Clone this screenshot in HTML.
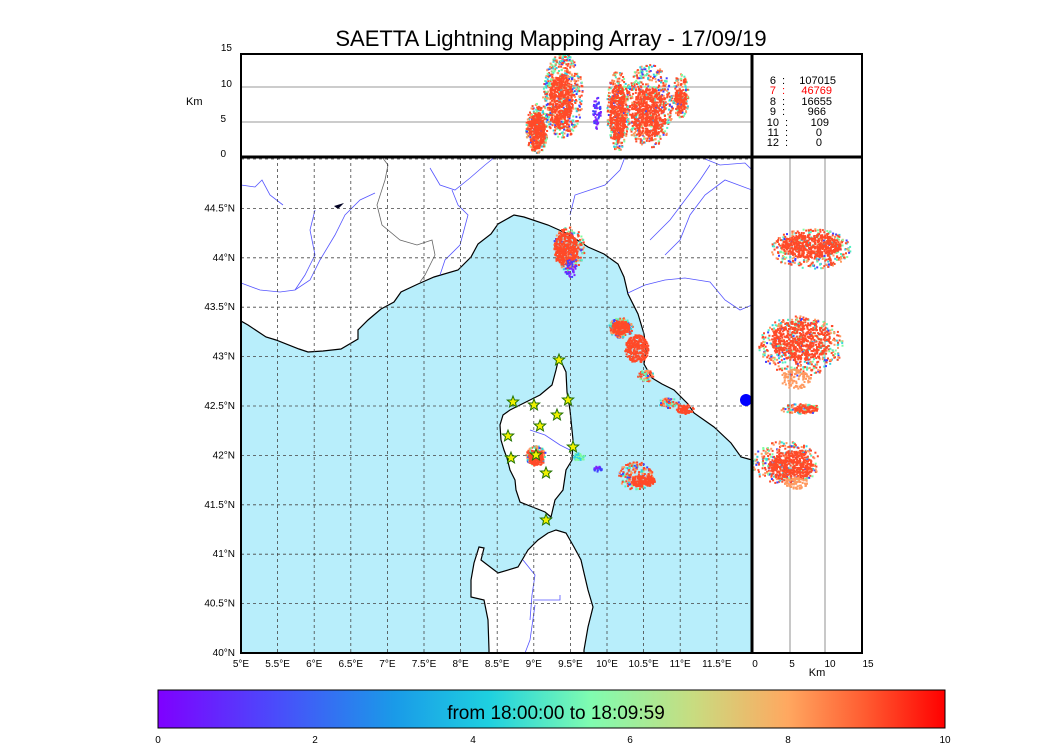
<!DOCTYPE html>
<html><head><meta charset="utf-8">
<style>
html,body{margin:0;padding:0;background:#fff;}
svg{display:block;font-family:"Liberation Sans",sans-serif;}
</style></head>
<body>
<svg id="s" width="1050" height="750" xmlns="http://www.w3.org/2000/svg">
<defs>
<linearGradient id="cb" x1="0" x2="1" y1="0" y2="0">
<stop offset="0" stop-color="#7f00ff"/>
<stop offset="0.15" stop-color="#4a4cfb"/>
<stop offset="0.3" stop-color="#1a9ae8"/>
<stop offset="0.42" stop-color="#1ed0e0"/>
<stop offset="0.55" stop-color="#80fcb0"/>
<stop offset="0.68" stop-color="#c8dc80"/>
<stop offset="0.8" stop-color="#ffa860"/>
<stop offset="0.9" stop-color="#ff5a30"/>
<stop offset="1" stop-color="#ff0000"/>
</linearGradient>
<clipPath id="mc"><rect x="241" y="157" width="511" height="496"/></clipPath>
<clipPath id="rc"><rect x="752" y="157" width="110" height="496"/></clipPath>
<clipPath id="tc"><rect x="241" y="54" width="511" height="103"/></clipPath>
</defs>
<text x="551" y="46" font-size="22" text-anchor="middle">SAETTA Lightning Mapping Array - 17/09/19</text>
<g clip-path="url(#mc)">
<rect x="241" y="157" width="511" height="496" fill="#b8eefb"/>
<polygon fill="#fff" stroke="#000" stroke-width="1.2" points="241,157 241,321 248,325 266,337 276,340 299,349 308,352 323,351 341,349 358,339 358,330 368,320 381,309 394,302 401,292 418,284 434,277 458,270 471,257 478,244 491,234 498,224 514,215 524,217 548,225 568,234 588,247 604,254 618,264 624,277 628,294 638,314 644,334 646,350 644,364 652,378 662,384 674,390 688,404 694,413 714,427 731,443 741,457 752,460 752,157"/>
<polygon fill="#fff" stroke="#000" stroke-width="1.2" points="559,357 566,372 567,392 570,410 573,440 572,460 566,470 563,490 555,500 551,517 545,512 535,508 520,502 516,490 515,480 510,470 507,458 504,450 501,440 500,425 503,415 510,410 520,405 530,400 540,395 552,385 556,370"/>
<polygon fill="#fff" stroke="#000" stroke-width="1.2" points="548,533 556,530 566,533 574,547 581,560 584,573 588,590 593,607 588,627 584,650 584,660 489,660 489,650 488,620 484,600 471,597 471,580 474,563 479,547 484,548 481,560 498,573 518,567 528,550 538,540"/>
<g fill="none" stroke="#5555ff" stroke-width="0.8">
<polyline points="241,185 255,187 262,180 270,195 283,205"/>
<polyline points="241,283 260,290 280,292 295,290 310,280 320,260 335,235 345,215 360,200 375,193"/>
<polyline points="315,210 310,230 315,255 305,275 295,290"/>
<polyline points="430,168 440,185 455,190 470,178 485,165 495,157"/>
<polyline points="452,190 458,205 468,215 460,245 445,260 440,275"/>
<polyline points="570,215 575,195 590,190 605,185 620,170 625,157"/>
<polyline points="650,240 670,220 685,200 700,180 710,165"/>
<polyline points="665,255 680,240 690,215 705,195 725,180 752,190"/>
<polyline points="628,293 645,285 665,280 685,278 710,282 725,300 740,310 752,305"/>
<polyline points="700,157 720,165 745,163 752,170"/>
<polyline points="530,430 545,435 560,445 570,450"/>
<polyline points="523,560 535,575 532,595 530,620"/>
<polyline points="533,600 545,600 560,600 560,595"/>
<polyline points="535,605 530,640 525,653"/>
</g>
<polyline points="382,157 388,165 385,180 377,205 382,225 400,240 417,245 432,240 435,255 425,275 420,282" fill="none" stroke="#666" stroke-width="0.8"/>
<path d="M334,206 l10,-3 l-6,6z" fill="#002"/>
<g id="grid" stroke="#444" stroke-width="0.8" stroke-dasharray="3,3" fill="none"></g>
<g id="mapdots"></g>
<g id="stars" fill="#f0f000" stroke="#207000" stroke-width="1"></g>
<ellipse cx="746" cy="400" rx="6" ry="6" fill="#0000ff"/>
</g>
<g clip-path="url(#tc)">
<line x1="241" x2="752" y1="87" y2="87" stroke="#777" stroke-width="0.8"/>
<line x1="241" x2="752" y1="122" y2="122" stroke="#777" stroke-width="0.8"/>
<g id="topdots"></g>
</g>
<g clip-path="url(#rc)">
<line x1="790" x2="790" y1="157" y2="653" stroke="#777" stroke-width="0.8"/>
<line x1="825" x2="825" y1="157" y2="653" stroke="#777" stroke-width="0.8"/>
<g id="rdots"></g>
</g>
<rect x="241" y="54" width="621" height="599" fill="none" stroke="#000" stroke-width="2"/>
<line x1="241" x2="862" y1="157" y2="157" stroke="#000" stroke-width="3"/>
<line x1="752" x2="752" y1="54" y2="653" stroke="#000" stroke-width="3"/>
<g font-size="11">
<g text-anchor="end">
<text x="776" y="84">6</text><text x="776" y="94" fill="#ff0000">7</text><text x="776" y="105">8</text><text x="776" y="115">9</text><text x="779" y="126">10</text><text x="779" y="136">11</text><text x="779" y="146">12</text>
<text x="836" y="84">107015</text><text x="832" y="94" fill="#ff0000">46769</text><text x="832" y="105">16655</text><text x="826" y="115">966</text><text x="829" y="126">109</text><text x="822" y="136">0</text><text x="822" y="146">0</text>
</g>
<text x="782" y="84">:</text><text x="782" y="94" fill="#ff0000">:</text><text x="782" y="105">:</text><text x="782" y="115">:</text><text x="785" y="126">:</text><text x="785" y="136">:</text><text x="785" y="146">:</text>
</g>
<g font-size="10" text-anchor="end" id="latl">
<text x="232" y="51">15</text><text x="232" y="87">10</text><text x="226" y="122">5</text><text x="226" y="157">0</text>
</g>
<text x="186" y="105" font-size="11">Km</text>
<g font-size="10" text-anchor="middle" id="lonl"></g>
<g font-size="10" text-anchor="middle">
<text x="755" y="667">0</text><text x="792" y="667">5</text><text x="830" y="667">10</text><text x="868" y="667">15</text>
</g>
<text x="817" y="676" font-size="11" text-anchor="middle">Km</text>
<rect x="158" y="690" width="787" height="38" fill="url(#cb)" stroke="#000" stroke-width="1"/>
<text x="556" y="719" font-size="19" text-anchor="middle">from 18:00:00 to 18:09:59</text>
<g font-size="10" text-anchor="middle">
<text x="158" y="743">0</text><text x="315" y="743">2</text><text x="473" y="743">4</text><text x="630" y="743">6</text><text x="788" y="743">8</text><text x="945" y="743">10</text>
</g>
</svg>
<script>
var NS="http://www.w3.org/2000/svg";
function el(p,t,a){var e=document.createElementNS(NS,t);for(var k in a)e.setAttribute(k,a[k]);document.getElementById(p).appendChild(e);return e;}
var seed=12345;function r(){seed=(seed*16807)%2147483647;return seed/2147483647;}
for(var i=0;i<=14;i++){var x=241+i*36.6;el("grid","line",{x1:x,x2:x,y1:157,y2:653});}
for(var j=0;j<=10;j++){var y=653-j*49.4;el("grid","line",{x1:241,x2:752,y1:y,y2:y});}
var lat=["40°N","40.5°N","41°N","41.5°N","42°N","42.5°N","43°N","43.5°N","44°N","44.5°N"];
for(var j=0;j<lat.length;j++){var t=el("latl","text",{x:235,y:656-j*49.4});t.textContent=lat[j];}
var lon=["5°E","5.5°E","6°E","6.5°E","7°E","7.5°E","8°E","8.5°E","9°E","9.5°E","10°E","10.5°E","11°E","11.5°E"];
for(var i=0;i<lon.length;i++){var t=el("lonl","text",{x:241+i*36.6,y:667});t.textContent=lon[i];}
var cols=["#ff4a28","#ff4a28","#ff4a28","#ff9a60","#ff9a60","#50f0c0","#80fca0","#4040ff","#30d0e0","#ff4a28"];
function blob(g,cx,cy,rx,ry,n,cs,sz){for(var k=0;k<n;k++){var a=r()*6.283,d=Math.sqrt(r());var x=cx+Math.cos(a)*d*rx,y=cy+Math.sin(a)*d*ry;el(g,"rect",{x:x.toFixed(1),y:y.toFixed(1),width:sz||2,height:sz||2,fill:cs[Math.floor(r()*cs.length)]});}}
var R=["#ff4a28"],O=["#ff9a60"],M=cols,B=["#4040ff","#7f20ff"],C=["#30d0e0","#80fca0"];
blob("mapdots",568,248,16,22,220,M);blob("mapdots",565,248,12,16,300,R);blob("mapdots",570,268,6,10,40,B);
blob("mapdots",620,327,12,10,200,M);blob("mapdots",620,327,9,7,150,R);blob("mapdots",636,348,12,14,260,R);blob("mapdots",645,375,8,6,60,M);
blob("mapdots",668,402,10,5,60,M);blob("mapdots",684,408,9,5,80,R);
blob("mapdots",535,455,10,10,150,M);blob("mapdots",535,457,7,7,120,R);blob("mapdots",578,456,6,4,40,C);blob("mapdots",597,468,4,3,20,B);
blob("mapdots",635,475,17,14,200,M);blob("mapdots",642,480,12,6,150,R);
blob("topdots",536,128,11,25,300,M);blob("topdots",536,130,8,18,250,R);
blob("topdots",562,95,20,42,600,M);blob("topdots",560,100,12,28,400,R);
blob("topdots",596,112,4,16,60,B);
blob("topdots",617,110,11,40,350,M);blob("topdots",617,112,8,30,300,R);
blob("topdots",648,105,24,42,550,M);blob("topdots",648,112,18,25,450,R);
blob("topdots",680,95,8,22,150,M);blob("topdots",680,100,6,12,100,R);
blob("rdots",810,248,40,20,400,M);blob("rdots",810,245,30,12,450,R);
blob("rdots",800,345,42,30,500,M);blob("rdots",800,340,30,20,500,R);blob("rdots",795,378,15,10,100,O);
blob("rdots",800,408,20,5,80,M);blob("rdots",805,408,12,4,60,R);
blob("rdots",785,462,34,22,350,M);blob("rdots",790,465,22,15,350,R);blob("rdots",795,482,12,6,80,O);
var st=[[513,402],[534,405],[568,400],[559,360],[557,415],[540,426],[508,436],[573,447],[511,458],[536,455],[546,473],[546,520]];
st.forEach(function(p){var pts=[];for(var k=0;k<10;k++){var a=-Math.PI/2+k*Math.PI/5,rr=k%2?2.6:6;pts.push((p[0]+Math.cos(a)*rr).toFixed(1)+","+(p[1]+Math.sin(a)*rr).toFixed(1));}el("stars","polygon",{points:pts.join(" ")});});
</script>
</body></html>
